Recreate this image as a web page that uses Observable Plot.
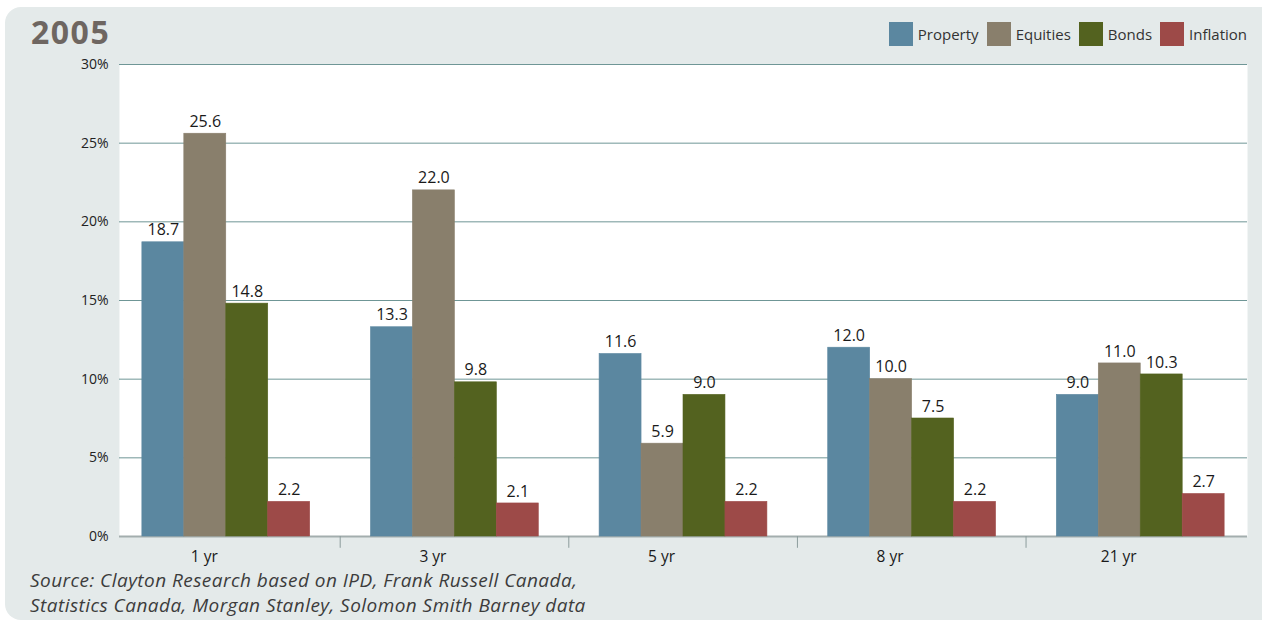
<!DOCTYPE html>
<html>
<head>
<meta charset="utf-8">
<script src="https://cdn.jsdelivr.net/npm/d3@7"></script>
<script src="https://cdn.jsdelivr.net/npm/@observablehq/plot@0.6"></script>
<style>
  html, body { margin: 0; padding: 0; background: #fff; width: 1262px; height: 625px; overflow: hidden; font-family: "Open Sans", sans-serif; }
  #panel { position: absolute; left: 5px; top: 7px; width: 1275px; height: 613px; background: #e4eaea; border-radius: 16px; }
  #title { position: absolute; left: 31px; top: 12px; font-size: 32px; font-weight: 700; color: #6e6661; letter-spacing: 1.5px; line-height: 40px; }
  #legend { position: absolute; right: 15px; top: 17px; }
  #legend .lg-swatch { margin-right: 8px; }
  #legend .lg-swatch > svg { margin-right: 5px; }
  #legend .lg-swatch:last-child { margin-right: 0; }
  #chart { position: absolute; left: 0; top: 50px; width: 1262px; height: 516px; }
  #chart > svg { position: absolute; left: 0; top: 0; }
  #caption { position: absolute; left: 30px; top: 568px; font-style: italic; font-size: 19px; letter-spacing: 0.45px; line-height: 25px; color: #3c3c3c; }
</style>
</head>
<body>
<div id="panel"></div>
<div id="title">2005</div>
<div id="legend"></div>
<div id="chart"></div>
<div id="caption">Source: Clayton Research based on IPD, Frank Russell Canada,<br>Statistics Canada, Morgan Stanley, Solomon Smith Barney data</div>
<script>
// Annualised returns by holding period (%)
const periods = ["1 yr", "3 yr", "5 yr", "8 yr", "21 yr"];
const series = ["Property", "Equities", "Bonds", "Inflation"];
const property = [18.7, 13.3, 11.6, 12.0, 9.0];
const equities = [25.6, 22.0, 5.9, 10.0, 11.0];
const bonds = [14.8, 9.8, 9.0, 7.5, 10.3];
const inflation = [2.2, 2.1, 2.2, 2.2, 2.7];
const yTicks = [0, 5, 10, 15, 20, 25, 30];

const colors = ["#5b87a0", "#897f6c", "#53621f", "#9d4a48"];
const valuesBySeries = [property, equities, bonds, inflation];

const rows = periods.flatMap((p, i) =>
  series.map((s, j) => ({period: p, series: s, value: valuesBySeries[j][i]}))
);

// Shared frame geometry for the two layers
const layout = {
  width: 1262,
  height: 516,
  marginTop: 14,
  marginBottom: 30,
  marginLeft: 119,
  marginRight: 15,
  style: {fontFamily: "Open Sans, sans-serif", fontSize: "14px", color: "#222", background: "transparent", overflow: "visible"}
};
const yScale = {domain: [0, 30], axis: null};

// Back layer: white plotting area, gridlines and y tick labels
const back = Plot.plot({
  ...layout,
  y: yScale,
  marks: [
    Plot.frame({fill: "white", stroke: null}),
    Plot.ruleY(yTicks.slice(1), {stroke: "#6f9696", strokeWidth: 1}),
    Plot.text(yTicks, {y: d => d, text: d => d + "%", frameAnchor: "left", textAnchor: "end", dx: -11, fontSize: 14, fill: "#222"}),
    Plot.ruleY([0], {stroke: "#a3aeae", strokeWidth: 2})
  ]
});

// Front layer: grouped bars, faceted by holding period
const front = Plot.plot({
  ...layout,
  fx: {domain: periods, paddingInner: 0.266, paddingOuter: 0.1, round: false, axis: null, label: null},
  x: {domain: series, padding: 0, round: false, axis: null},
  y: yScale,
  color: {domain: series, range: colors},
  marks: [
    Plot.barY(rows, {fx: "period", x: "series", y1: 0, y2: "value", fill: "series", stroke: "series", strokeWidth: 0.6}),
    Plot.text(rows, {fx: "period", x: "series", y: "value", text: d => d.value.toFixed(1), dy: -12, fontSize: 16, fill: "#1a1a1a"}),
    Plot.ruleX(periods.slice(0, -1), {fx: d => d, x: () => "Inflation", dx: 51, y1: 0, y2: -0.75, stroke: "#8c9c9c"}),
    Plot.text(periods, {fx: d => d, text: d => d, frameAnchor: "bottom", lineAnchor: "top", dy: 14, dx: -22, fontSize: 15.5, fill: "#1a1a1a"})
  ]
});

const holder = document.getElementById("chart");
holder.appendChild(back);
holder.appendChild(front);

const legend = Plot.legend({
  color: {domain: series, range: colors},
  legend: "swatches",
  swatchSize: 24,
  className: "lg",
  style: {fontSize: "15px", fontFamily: "Open Sans, sans-serif", color: "#333", margin: 0}
});
document.getElementById("legend").appendChild(legend);
</script>
</body>
</html>
